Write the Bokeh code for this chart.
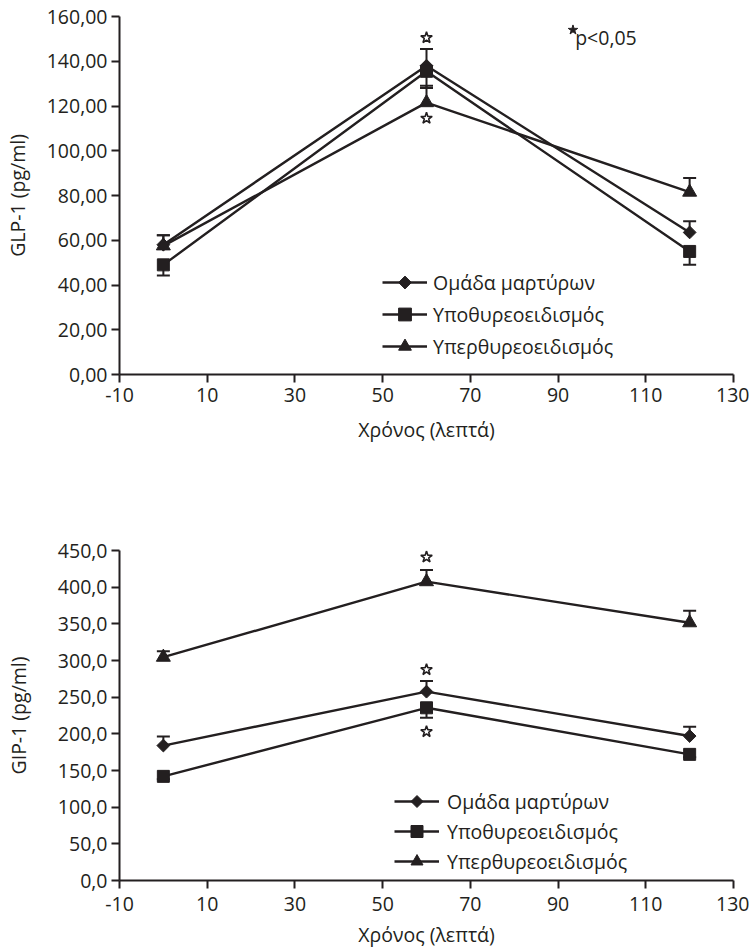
from bokeh.plotting import figure
from bokeh.layouts import column
from bokeh.models import (Range1d, FixedTicker, CustomJSTickFormatter, Legend,
                          LegendItem, Label)
from bokeh.embed import file_html
from bokeh.resources import INLINE

# ---------------- data ----------------
times = [0, 60, 120]
series_names = ["Ομάδα μαρτύρων", "Υποθυρεοειδισμός", "Υπερθυρεοειδισμός"]

glp_control = [58.0, 138.0, 63.5]
glp_control_err = [4.2, 7.5, 5.0]
glp_hypo = [49.0, 135.5, 55.0]
glp_hypo_err = [4.8, 7.5, 6.0]
glp_hyper = [57.5, 121.5, 81.5]
glp_hyper_err = [4.7, 7.5, 6.3]

gip_control = [184.0, 257.5, 197.0]
gip_control_err = [12.5, 14.5, 12.5]
gip_hypo = [142.0, 235.5, 172.0]
gip_hypo_err = [4.0, 13.5, 4.0]
gip_hyper = [304.5, 407.5, 351.5]
gip_hyper_err = [8.0, 16.0, 16.5]

# error bar direction per series: +1 upward, -1 downward
err_dirs = [1, -1, 1]

glp_sig_x = [60, 60]
glp_sig_y = [150.5, 114.5]
gip_sig_x = [60, 60, 60]
gip_sig_y = [441.0, 287.5, 203.0]

x_ticks = [-10, 10, 30, 50, 70, 90, 110, 130]
glp_y_ticks = [0, 20, 40, 60, 80, 100, 120, 140, 160]
gip_y_ticks = [0, 50, 100, 150, 200, 250, 300, 350, 400, 450]

x_label = "Χρόνος (λεπτά)"
glp_y_label = "GLP-1 (pg/ml)"
gip_y_label = "GIP-1 (pg/ml)"
key_text = "p<0,05"
key_star = (93.4, 154.0)
key_text_pos = (93.9, 150.5)

# ---------------- style ----------------
INK = "#231f20"
FONT = "Open Sans"
FS = "19.5px"


def make_chart(series, errs, y_max, y_ticks, decimals, y_label, sig_x, sig_y,
               height, b_top, b_bottom, legend_loc, legend_gh, legend_standoff,
               xtick_standoff, xlab_standoff, ylab_standoff, key=False):
    p = figure(width=749, height=height, output_backend="svg", toolbar_location=None,
               x_range=Range1d(-10, 130), y_range=Range1d(0, y_max),
               min_border_left=117, min_border_right=16,
               min_border_top=b_top, min_border_bottom=b_bottom)
    p.outline_line_color = None
    p.grid.visible = False
    p.background_fill_color = "white"
    p.border_fill_color = "white"

    for ax in (p.xaxis[0], p.yaxis[0]):
        ax.axis_line_color = INK
        ax.axis_line_width = 2
        ax.major_tick_line_color = INK
        ax.major_tick_line_width = 2
        ax.major_tick_out = 8
        ax.major_tick_in = 0
        ax.minor_tick_line_color = None
        ax.major_label_text_font = FONT
        ax.major_label_text_font_size = FS
        ax.major_label_text_color = INK
        ax.axis_label_text_font = FONT
        ax.axis_label_text_font_size = FS
        ax.axis_label_text_font_style = "normal"
        ax.axis_label_text_color = INK

    p.xaxis.ticker = FixedTicker(ticks=x_ticks)
    p.yaxis.ticker = FixedTicker(ticks=y_ticks)
    p.xaxis.formatter = CustomJSTickFormatter(code="return tick.toFixed(0);")
    p.yaxis.formatter = CustomJSTickFormatter(
        code="return tick.toFixed(%d).replace('.', ',');" % decimals)
    p.xaxis.axis_label = x_label
    p.yaxis.axis_label = y_label
    p.xaxis.major_label_standoff = xtick_standoff
    p.yaxis.major_label_standoff = 4
    p.xaxis.axis_label_standoff = xlab_standoff
    p.yaxis.axis_label_standoff = ylab_standoff

    items = []
    for i, (vals, err, d, name) in enumerate(zip(series, errs, err_dirs, series_names)):
        ends = [v + d * e for v, e in zip(vals, err)]
        p.segment(x0=times, y0=vals, x1=times, y1=ends, line_color=INK, line_width=2)
        p.scatter(x=times, y=ends, marker="dash", size=13, line_color=INK, line_width=2)
        lr = p.line(times, vals, line_color=INK, line_width=2.4)
        if i == 0:
            mr = p.ngon(x=times, y=vals, radius=6.4, radius_units="screen", n=4,
                        fill_color=INK, line_color=INK, line_width=1)
        elif i == 1:
            mr = p.scatter(times, vals, marker="square", size=12,
                           fill_color=INK, line_color=INK, line_width=1)
        else:
            mr = p.scatter(times, vals, marker="triangle", size=14,
                           fill_color=INK, line_color=INK, line_width=1)
        items.append(LegendItem(label=name, renderers=[lr, mr]))

    p.scatter(sig_x, sig_y, marker="star", size=12, fill_color="white",
              line_color=INK, line_width=1.6)

    legend = Legend(items=items, location=legend_loc, glyph_width=45,
                    glyph_height=legend_gh, label_height=20, label_text_font=FONT,
                    label_text_font_size=FS, label_text_color=INK, spacing=0,
                    padding=0, margin=0, label_standoff=legend_standoff,
                    border_line_alpha=0, background_fill_alpha=0)
    p.add_layout(legend)

    if key:
        p.scatter([key_star[0]], [key_star[1]], marker="star", size=10, fill_color=INK,
                  line_color=INK, line_width=1)
        p.add_layout(Label(x=key_text_pos[0], y=key_text_pos[1], text=key_text,
                           text_font=FONT, text_font_size=FS, text_color=INK,
                           text_baseline="middle"))
    return p


top = make_chart([glp_control, glp_hypo, glp_hyper],
                 [glp_control_err, glp_hypo_err, glp_hyper_err],
                 160, glp_y_ticks, 2, glp_y_label, glp_sig_x, glp_sig_y,
                 height=473, b_top=16, b_bottom=99, legend_loc=(263, 12),
                 legend_gh=32, legend_standoff=6, xtick_standoff=5, xlab_standoff=11,
                 ylab_standoff=13, key=True)
bottom = make_chart([gip_control, gip_hypo, gip_hyper],
                    [gip_control_err, gip_hypo_err, gip_hyper_err],
                    450, gip_y_ticks, 1, gip_y_label, gip_sig_x, gip_sig_y,
                    height=479, b_top=77, b_bottom=72, legend_loc=(275, 4),
                    legend_gh=30, legend_standoff=8, xtick_standoff=8, xlab_standoff=7,
                    ylab_standoff=23)

p = column(top, bottom, spacing=0)
open("out.html", "w").write(file_html(p, INLINE))
